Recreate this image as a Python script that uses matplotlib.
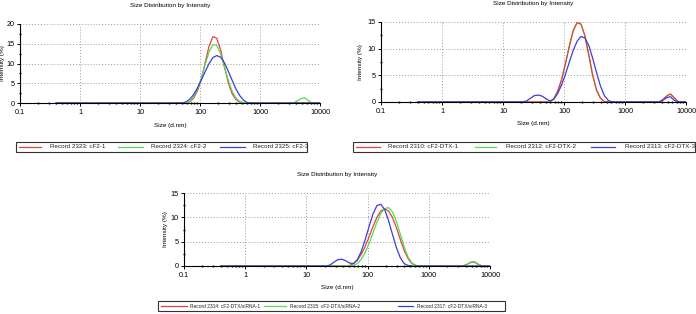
import numpy as np
import matplotlib
matplotlib.use("Agg")
import matplotlib.pyplot as plt
from matplotlib.lines import Line2D
from matplotlib.patches import Rectangle
from matplotlib.ticker import MultipleLocator, LogLocator, NullFormatter

plt.rcParams["font.family"] = ["Liberation Sans", "DejaVu Sans"]

# size bins (d.nm), shared by every record
sizes = [0.4, 1, 10, 21.04, 24.36, 28.21, 32.67, 37.84, 43.82, 50.75, 58.77,
         68.06, 78.82, 91.28, 105.7, 122.4, 141.8, 164.2, 190.1, 220.2, 255.0,
         295.3, 342.0, 396.1, 458.7, 531.2, 615.1, 712.4, 825.0, 1000, 3091,
         3580, 4145, 4801, 5560, 6439, 7456, 10000]

# panel A: cF2
cf2_1 = [0, 0, 0, 0, 0, 0, 0, 0, 0, 0, 0,
         0.3, 1.3, 3.2, 6.2, 10.3, 14.4, 16.8, 16.4, 13.5, 9.2,
         5.2, 2.4, 0.9, 0.2, 0, 0, 0, 0, 0, 0,
         0, 0, 0, 0, 0, 0, 0]
cf2_2 = [0, 0, 0, 0, 0, 0, 0, 0, 0, 0, 0,
         0.4, 1.6, 3.6, 6.4, 9.8, 13.0, 14.8, 14.6, 12.5, 9.2,
         5.8, 3.0, 1.3, 0.4, 0.1, 0, 0, 0, 0, 0,
         0, 0.5, 1.1, 1.3, 0.6, 0, 0]
cf2_3 = [0, 0, 0, 0, 0, 0, 0, 0, 0, 0, 0.3,
         1.0, 2.2, 3.9, 5.9, 8.0, 10.0, 11.5, 12.0, 11.6, 10.2,
         8.1, 5.8, 3.6, 1.9, 0.7, 0.1, 0, 0, 0, 0,
         0, 0, 0, 0, 0, 0, 0]

# panel B: cF2-DTX
dtx_1 = [0, 0, 0, 0, 0, 0, 0, 0, 0, 0, 0,
         0.6, 2.0, 4.2, 7.2, 10.5, 13.4, 14.9, 14.6, 12.4, 8.8,
         5.0, 2.2, 0.7, 0.1, 0, 0, 0, 0, 0, 0,
         0, 0.4, 1.1, 1.5, 0.8, 0, 0]
dtx_2 = list(dtx_1)
dtx_3 = [0, 0, 0, 0, 0.2, 0.7, 1.2, 1.3, 1.1, 0.6, 0.2,
         0.5, 1.6, 3.2, 5.2, 7.5, 9.7, 11.4, 12.3, 12.0, 10.6,
         8.2, 5.5, 3.0, 1.2, 0.3, 0, 0, 0, 0, 0,
         0, 0.3, 0.8, 1.0, 0.3, 0, 0]

# panel C: cF2-DTX/siRNA
sirna_1 = [0, 0, 0, 0, 0, 0, 0, 0, 0, 0.1, 0.5,
           1.2, 2.4, 4.0, 6.0, 8.1, 10.0, 11.3, 11.7, 11.3, 10.0,
           7.9, 5.5, 3.2, 1.5, 0.5, 0.1, 0, 0, 0, 0,
           0, 0.3, 0.7, 0.8, 0.3, 0, 0]
sirna_2 = [0, 0, 0, 0, 0, 0, 0, 0, 0, 0, 0.1,
           0.5, 1.4, 2.8, 4.6, 6.8, 9.0, 10.8, 11.8, 12.0, 11.1,
           9.2, 6.6, 3.9, 1.8, 0.6, 0.1, 0, 0, 0, 0,
           0, 0.3, 0.8, 0.9, 0.4, 0, 0]
sirna_3 = [0, 0, 0, 0, 0.2, 0.8, 1.3, 1.4, 1.1, 0.6, 0.5,
           1.3, 3.0, 5.4, 8.1, 10.7, 12.4, 12.7, 11.6, 9.3, 6.5,
           3.8, 1.7, 0.5, 0.1, 0, 0, 0, 0, 0, 0,
           0, 0, 0, 0, 0, 0, 0]

labels_a = ["Record 2323: cF2-1", "Record 2324: cF2-2", "Record 2325: cF2-3"]
labels_b = ["Record 2310: cF2-DTX-1", "Record 2312: cF2-DTX-2",
            "Record 2313: cF2-DTX-3"]
labels_c = ["Record 2314: cF2-DTX/siRNA-1", "Record 2315: cF2-DTX/siRNA-2",
            "Record 2317: cF2-DTX/siRNA-3"]

RED, GREEN, BLUE = "#e8403a", "#52dc52", "#3c3cdc"
colors = [RED, GREEN, BLUE]

W, H = 696, 314
fig = plt.figure(figsize=(W / 100, H / 100), dpi=100)


def fr(x0, y0, x1, y1):
    # pixel box (top-left origin) -> figure fraction rect
    return [x0 / W, 1 - y1 / H, (x1 - x0) / W, (y1 - y0) / H]


# layout in pixels: axes box, y-label x, legend box, legend entries
# (handle start, handle end, text start)
layout = [
    dict(series=[cf2_1, cf2_2, cf2_3], labels=labels_a, ymax=20, order=[0, 1, 2],
         ax=(20, 24, 320, 103), ylab=5, legfs=4.5,
         leg=(16, 142, 307, 152), ent=[(19, 41, 50), (118, 143, 151), (220, 245, 253)]),
    dict(series=[dtx_1, dtx_2, dtx_3], labels=labels_b, ymax=15, order=[1, 0, 2],
         ax=(381, 22, 686, 102), ylab=363, legfs=4.5,
         leg=(353, 142, 695, 152), ent=[(356, 380, 388), (475, 496, 506), (591, 615, 625)]),
    dict(series=[sirna_1, sirna_2, sirna_3], labels=labels_c, ymax=15, order=[0, 1, 2],
         ax=(184, 193, 490, 266), ylab=168, legfs=3.5,
         leg=(158, 301, 505, 311), ent=[(161, 187, 190), (264, 286, 290), (398, 413, 417)]),
]

fs_tick, fs_lab, fs_title = 5.2, 4.6, 4.6

for p in layout:
    x0, y0, x1, y1 = p["ax"]
    ax = fig.add_axes(fr(x0, y0, x1, y1))
    for i in p["order"]:
        ax.plot(sizes, p["series"][i], color=colors[i], lw=0.9)
    ax.set_xscale("log")
    ax.set_xlim(0.1, 10000)
    ax.set_ylim(0, p["ymax"])
    ax.set_xticks([0.1, 1, 10, 100, 1000, 10000])
    ax.set_xticklabels(["0.1", "1", "10", "100", "1000", "10000"])
    ax.xaxis.set_minor_locator(LogLocator(base=10, subs=np.arange(2, 10)))
    ax.xaxis.set_minor_formatter(NullFormatter())
    ax.yaxis.set_major_locator(MultipleLocator(5))
    ax.yaxis.set_minor_locator(MultipleLocator(2.5))
    ax.grid(True, which="major", color="#9a9a9a", ls=(0, (1, 2)), lw=0.7)
    for s in ("top", "right"):
        ax.spines[s].set_visible(False)
    ax.spines["left"].set_linewidth(0.8)
    ax.spines["bottom"].set_linewidth(0.8)
    ax.tick_params(which="major", labelsize=fs_tick, length=2, width=0.7, pad=2)
    ax.tick_params(which="minor", length=1.2, width=1.0, direction="inout")
    ax.set_title("Size Distribution by Intensity", fontsize=fs_title, pad=12)
    ax.set_xlabel("Size (d.nm)", fontsize=fs_lab, labelpad=5)
    ax.set_ylabel("Intensity (%)", fontsize=fs_lab)
    ax.yaxis.set_label_coords((p["ylab"] - x0) / (x1 - x0), 0.5)

    # legend drawn as a framed strip below the axes
    lx0, ly0, lx1, ly1 = p["leg"]
    r = fr(lx0, ly0, lx1, ly1)
    fig.patches.append(Rectangle((r[0], r[1]), r[2], r[3], transform=fig.transFigure,
                                 fill=False, edgecolor="#333333", lw=0.8))
    yc = 1 - (ly0 + ly1) / 2 / H
    for (hx0, hx1, tx), lab, c in zip(p["ent"], p["labels"], colors):
        fig.add_artist(Line2D([hx0 / W, hx1 / W], [yc, yc], color=c, lw=0.9,
                              transform=fig.transFigure))
        fig.text(tx / W, yc, lab, fontsize=p["legfs"], va="center", ha="left",
                 color="#222222")

fig.savefig("out.png", dpi=100)
